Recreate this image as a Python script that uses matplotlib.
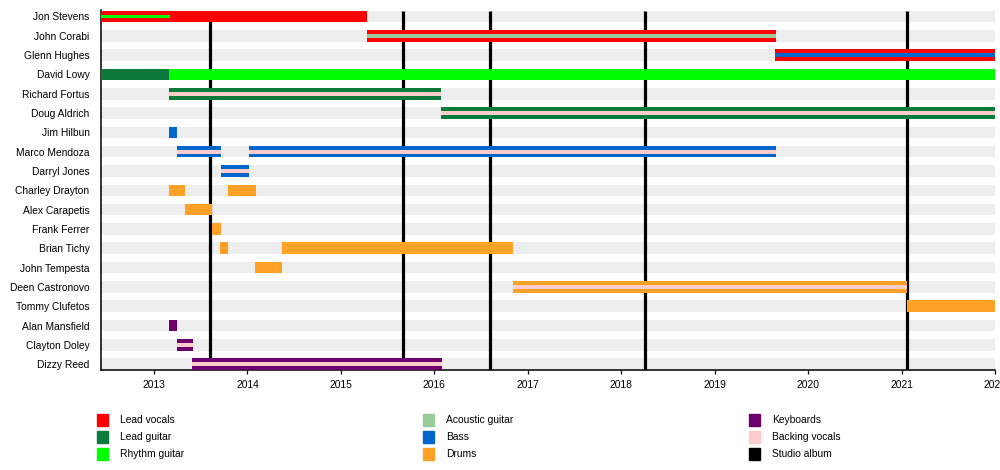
import matplotlib
matplotlib.use("Agg")
import matplotlib.pyplot as plt
from matplotlib.patches import Rectangle

plt.rcParams['font.family'] = ['Liberation Sans', 'DejaVu Sans']

members = ["Jon Stevens", "John Corabi", "Glenn Hughes", "David Lowy", "Richard Fortus",
           "Doug Aldrich", "Jim Hilbun", "Marco Mendoza", "Darryl Jones", "Charley Drayton",
           "Alex Carapetis", "Frank Ferrer", "Brian Tichy", "John Tempesta", "Deen Castronovo",
           "Tommy Clufetos", "Alan Mansfield", "Clayton Doley", "Dizzy Reed"]

roles = ["Lead vocals", "Lead guitar", "Rhythm guitar",
         "Acoustic guitar", "Bass", "Drums",
         "Keyboards", "Backing vocals", "Studio album"]
role_colors = ["#ff0000", "#0b7a3a", "#00ff00",
               "#99cc99", "#0066cc", "#ffa126",
               "#6e006e", "#ffcccc", "#000000"]

t_start, t_end = 2012.43, 2022.0

# main bars: member, from, to, role
bars = [
    ("Jon Stevens", 2012.43, 2015.285, "Lead vocals"),
    ("John Corabi", 2015.285, 2019.656, "Lead vocals"),
    ("Glenn Hughes", 2019.65, 2022.0, "Lead vocals"),
    ("David Lowy", 2012.43, 2013.16, "Lead guitar"),
    ("David Lowy", 2013.16, 2022.0, "Rhythm guitar"),
    ("Richard Fortus", 2013.16, 2016.075, "Lead guitar"),
    ("Doug Aldrich", 2016.07, 2022.0, "Lead guitar"),
    ("Jim Hilbun", 2013.157, 2013.248, "Bass"),
    ("Marco Mendoza", 2013.245, 2013.72, "Bass"),
    ("Marco Mendoza", 2014.014, 2019.656, "Bass"),
    ("Darryl Jones", 2013.72, 2014.014, "Bass"),
    ("Charley Drayton", 2013.157, 2013.336, "Drums"),
    ("Charley Drayton", 2013.789, 2014.089, "Drums"),
    ("Alex Carapetis", 2013.336, 2013.623, "Drums"),
    ("Frank Ferrer", 2013.623, 2013.72, "Drums"),
    ("Brian Tichy", 2013.71, 2013.789, "Drums"),
    ("Brian Tichy", 2014.367, 2016.846, "Drums"),
    ("John Tempesta", 2014.083, 2014.367, "Drums"),
    ("Deen Castronovo", 2016.846, 2021.062, "Drums"),
    ("Tommy Clufetos", 2021.056, 2022.0, "Drums"),
    ("Alan Mansfield", 2013.157, 2013.248, "Keyboards"),
    ("Clayton Doley", 2013.245, 2013.42, "Keyboards"),
    ("Dizzy Reed", 2013.41, 2016.077, "Keyboards"),
]

# thin secondary role stripes
stripes = [
    ("Jon Stevens", 2012.43, 2013.167, "Rhythm guitar"),
    ("John Corabi", 2015.285, 2019.656, "Acoustic guitar"),
    ("Glenn Hughes", 2019.65, 2022.0, "Bass"),
    ("Richard Fortus", 2013.16, 2016.075, "Backing vocals"),
    ("Doug Aldrich", 2016.07, 2022.0, "Backing vocals"),
    ("Marco Mendoza", 2013.245, 2013.72, "Backing vocals"),
    ("Marco Mendoza", 2014.014, 2019.656, "Backing vocals"),
    ("Darryl Jones", 2013.72, 2014.014, "Backing vocals"),
    ("Deen Castronovo", 2016.846, 2021.062, "Backing vocals"),
    ("Clayton Doley", 2013.245, 2013.42, "Backing vocals"),
    ("Dizzy Reed", 2013.41, 2016.077, "Backing vocals"),
]

albums = [2013.596, 2015.666, 2016.6, 2018.257, 2021.062]
years = list(range(2013, 2023))

color_of = dict(zip(roles, role_colors))
row_of = {m: i for i, m in enumerate(members)}

fig = plt.figure(figsize=(10, 4.7), dpi=100)
ax = fig.add_axes([0.1007, 1 - 370 / 470, 0.995 - 0.1007, (370 - 9.7) / 470])

bar_h = 0.6
rows = list(range(len(members)))
ax.barh(rows, [t_end - t_start] * len(rows), left=t_start, height=bar_h,
        color="#eeeeee", zorder=1)

ax.vlines(albums, -bar_h / 2, len(members) - 1 + bar_h / 2, color=color_of["Studio album"],
          linewidth=2.3, zorder=2)

for m, a, b, r in bars:
    ax.barh(row_of[m], b - a, left=a, height=bar_h, color=color_of[r], zorder=3)
for m, a, b, r in stripes:
    ax.barh(row_of[m], b - a, left=a, height=bar_h / 3, color=color_of[r], zorder=4)

ax.set_xlim(t_start, t_end)
ax.set_ylim(len(members) - 1 + 0.3, -0.35)
ax.set_yticks(rows)
ax.set_yticklabels(members, fontsize=7.4)
ax.set_xticks(years)
ax.set_xticklabels([str(y) for y in years], fontsize=7.4)
ax.tick_params(axis='y', length=0, pad=8)
ax.tick_params(axis='x', length=3, width=0.9, pad=4)
ax.spines['top'].set_visible(False)
ax.spines['right'].set_visible(False)
ax.spines['left'].set_linewidth(1.1)
ax.spines['bottom'].set_linewidth(1.1)

# legend in three columns
col_x = [97, 423, 749]
row_y = [420, 437, 454]
for k, (r, c) in enumerate(zip(roles, role_colors)):
    cx = col_x[k // 3]
    cy = row_y[k % 3]
    fig.patches.append(Rectangle((cx / 1000, 1 - (cy + 6) / 470), 11 / 1000, 12 / 470,
                                 transform=fig.transFigure, color=c, figure=fig))
    fig.text((cx + 23) / 1000, 1 - cy / 470, r, fontsize=7.4, va='center', ha='left')

fig.savefig("out.png", dpi=100)
